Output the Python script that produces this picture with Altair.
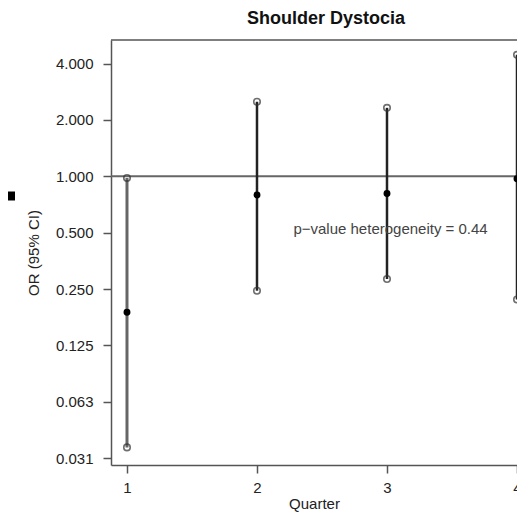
import altair as alt
import pandas as pd

# ---- data ----
quarters = [1, 2, 3, 4]
or_est = [0.188, 0.795, 0.81, 0.97]
ci_low = [0.0357, 0.245, 0.283, 0.22]
ci_high = [0.98, 2.5, 2.32, 4.45]

y_tick_values = [0.03125, 0.0625, 0.125, 0.25, 0.5, 1, 2, 4]
y_tick_labels = ["0.031", "0.063", "0.125", "0.250", "0.500", "1.000", "2.000", "4.000"]
x_tick_values = [1, 2, 3, 4]

ref_value = [1.0]
annot_x = [2.28]
annot_y = [0.52]
annot_text = ["p\u2212value heterogeneity = 0.44"]

title_text = ["Shoulder Dystocia"]
x_title = "Quarter"
y_title = "OR (95% CI)"

# ---- layout ----
W, H = 406, 425
FONT = "Liberation Sans"

df = pd.DataFrame({"quarter": quarters, "est": or_est, "lo": ci_low, "hi": ci_high})
ref_df = pd.DataFrame({"ref": ref_value})
ann_df = pd.DataFrame({"x": annot_x, "y": annot_y, "label": annot_text})
title_df = pd.DataFrame({"t": title_text})

label_map = "{" + ",".join(f"'{v}':'{l}'" for v, l in zip(y_tick_values, y_tick_labels)) + "}"
label_expr = f"{label_map}[toString(datum.value)]"

x_scale = alt.Scale(domain=[0.877, 4.0], nice=False, zero=False)
y_scale = alt.Scale(type="log", base=2, domain=[2 ** -5.12, 2 ** 2.417], nice=False)

x_axis = alt.Axis(values=x_tick_values, format="d", title=x_title, grid=False,
                  tickSize=8, labelPadding=7, titlePadding=1,
                  labelFontSize=15, titleFontSize=15, titleFontWeight="normal",
                  labelFont=FONT, titleFont=FONT, labelColor="#222", titleColor="#222",
                  domainColor="#555", domainWidth=1.5, tickColor="#555", tickWidth=1.5,
                  labelFlush=False)
y_axis = alt.Axis(values=y_tick_values, labelExpr=label_expr, title=y_title, grid=False,
                  tickSize=8, labelPadding=10,
                  labelFontSize=15, titleFontSize=15, titleFontWeight="normal",
                  labelFont=FONT, titleFont=FONT, labelColor="#222", titleColor="#222",
                  domainColor="#555", domainWidth=1.5, tickColor="#555", tickWidth=1.5,
                  titleX=-70, titleY=H / 2, titleBaseline="bottom", titleAngle=270)

base = alt.Chart(df)

ref_line = alt.Chart(ref_df).mark_rule(color="#666", strokeWidth=2).encode(
    y=alt.Y("ref:Q", scale=y_scale, axis=y_axis)
)

bars = base.mark_rule(clip=True).encode(
    x=alt.X("quarter:Q", scale=x_scale, axis=x_axis),
    y=alt.Y("lo:Q", scale=y_scale, axis=y_axis),
    y2="hi:Q",
    color=alt.condition(alt.datum.quarter == 1, alt.value("#666"), alt.value("#222")),
    strokeWidth=alt.condition(alt.datum.quarter == 1, alt.value(3), alt.value(2.5)),
)

ends = base.transform_fold(["lo", "hi"], as_=["kind", "val"]).mark_point(
    shape="circle", filled=False, size=42, strokeWidth=1.6, color="#333", clip=True
).encode(
    x=alt.X("quarter:Q", scale=x_scale, axis=x_axis),
    y=alt.Y("val:Q", scale=y_scale, axis=y_axis),
)

dots = base.mark_circle(size=48, color="#000", opacity=1, clip=True).encode(
    x=alt.X("quarter:Q", scale=x_scale, axis=x_axis),
    y=alt.Y("est:Q", scale=y_scale, axis=y_axis),
)

annot = alt.Chart(ann_df).mark_text(
    align="left", baseline="middle", fontSize=15, font=FONT, color="#444"
).encode(
    x=alt.X("x:Q", scale=x_scale, axis=x_axis),
    y=alt.Y("y:Q", scale=y_scale, axis=y_axis),
    text="label:N",
)

top_frame = alt.Chart(ref_df).mark_rule(color="#555", strokeWidth=1.5).encode(
    x=alt.value(0), x2=alt.value(W), y=alt.value(0)
)

title_mark = alt.Chart(title_df).mark_text(
    align="center", baseline="middle", fontSize=18, fontWeight="bold", font=FONT, color="#111"
).encode(x=alt.value(W / 2 + 12), y=alt.value(-21), text="t:N")

# dark fragment of a neighbouring panel visible at the left edge of the reference
edge_fragment = alt.Chart(ref_df).mark_rule(color="#000", strokeWidth=9).encode(
    x=alt.value(-104), x2=alt.value(-96), y=alt.value(156)
)

chart = alt.layer(ref_line, bars, ends, dots, annot, top_frame, title_mark, edge_fragment).properties(
    width=W, height=H,
    autosize=alt.AutoSizeParams(type="none"),
    padding={"left": 103, "top": 32, "right": 0, "bottom": 47},
).configure_view(stroke=None)

chart.save("out.html", embed_options={"renderer": "svg", "actions": False})
